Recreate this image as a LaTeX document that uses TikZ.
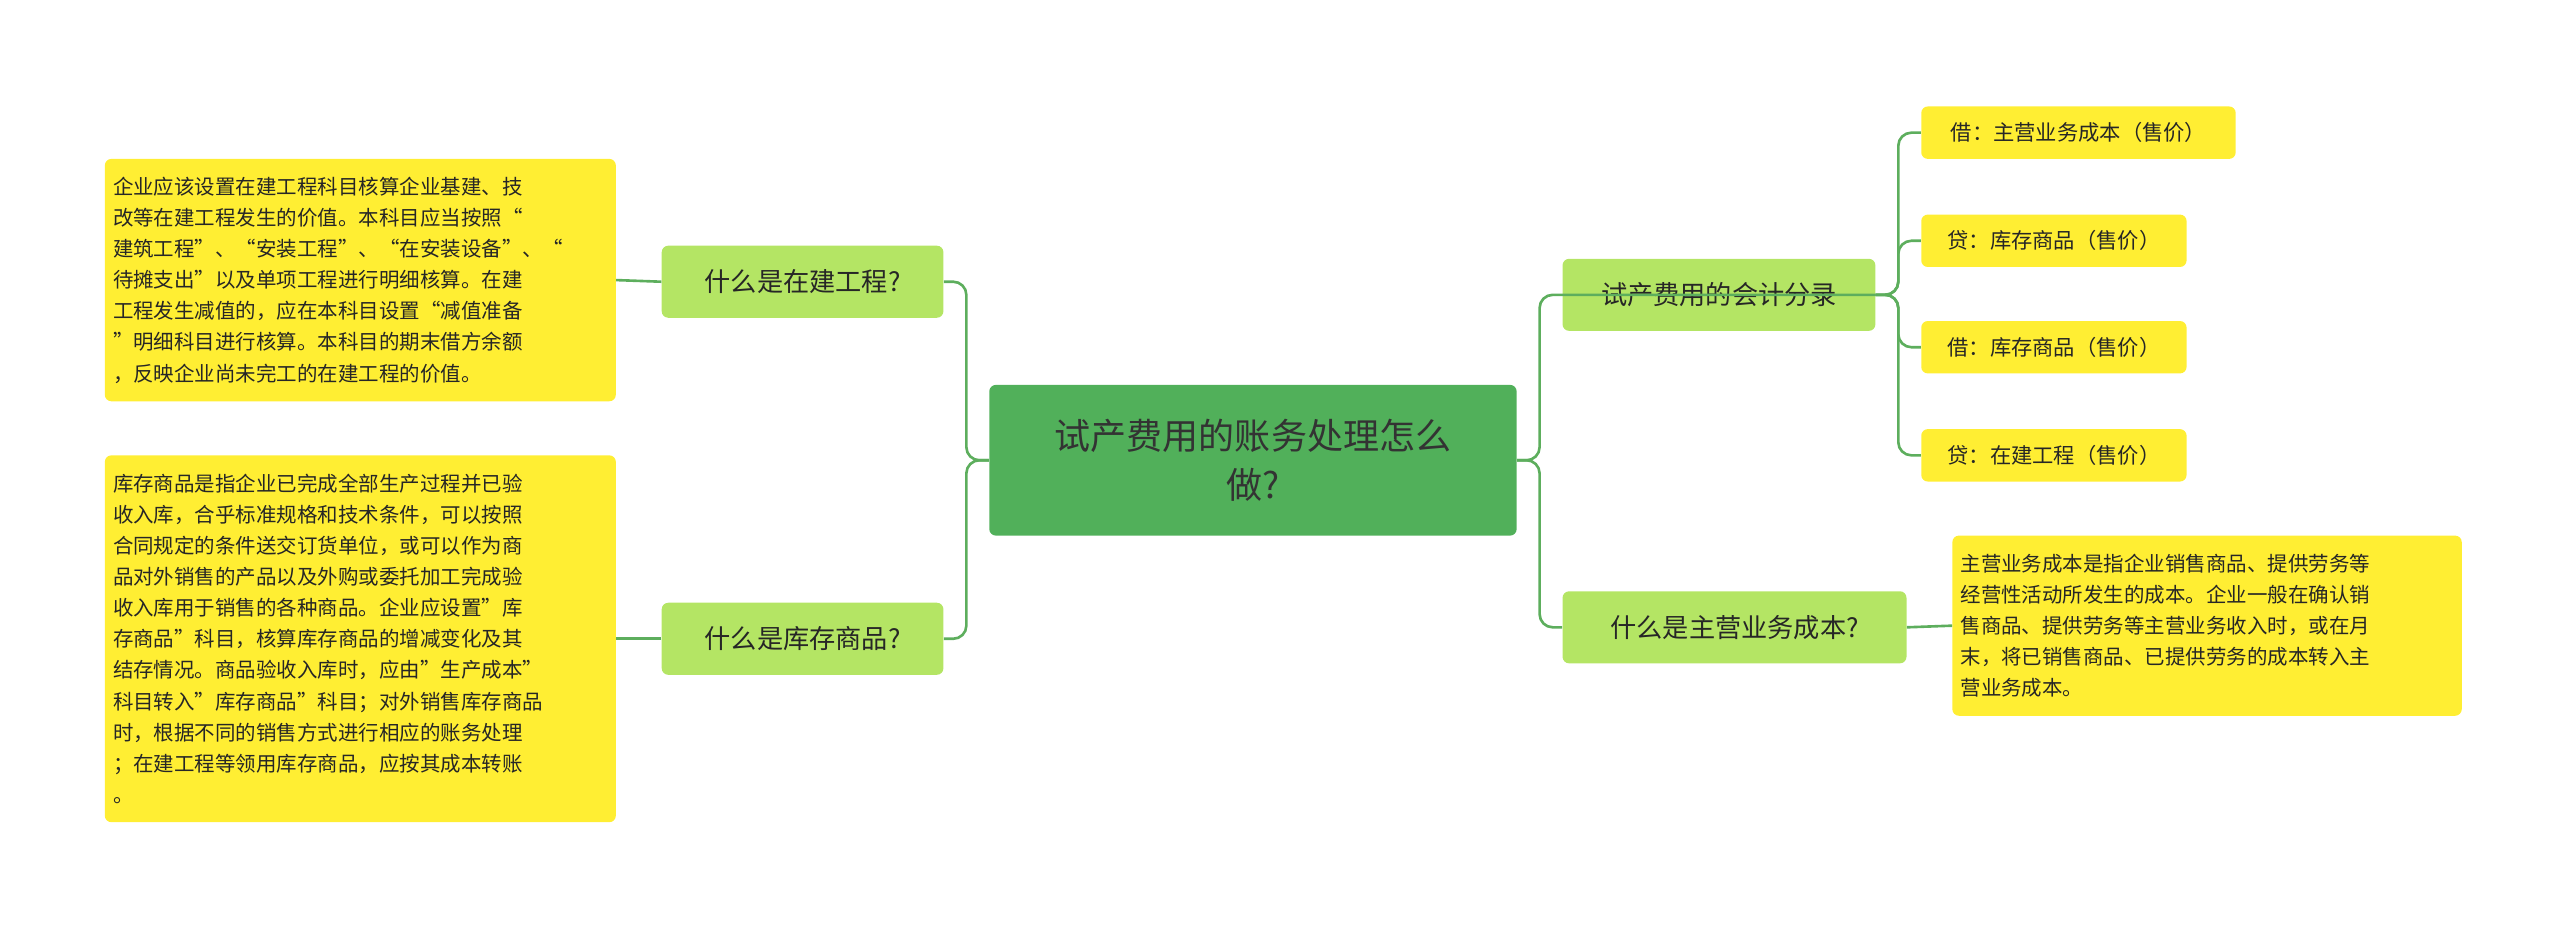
\documentclass[tikz,border=0pt]{standalone}
\usepackage{fontspec}
\setmainfont{Noto Sans CJK SC}
\begin{document}
\begin{tikzpicture}[x=1pt,y=-1pt,
  cen/.style={fill=cgreen,rounded corners=4pt,text=black!80,font=\fontsize{22}{30}\selectfont,align=center,inner sep=0pt},
  br/.style={fill=lgreen,rounded corners=4pt,text=black!85,font=\fontsize{16}{20}\selectfont,inner sep=0pt},
  lf/.style={fill=lyellow,rounded corners=4pt,text=black!85,font=\fontsize{12.5}{19}\selectfont,align=left,inner sep=0pt},
  sl/.style={fill=lyellow,rounded corners=4pt,text=black!85,font=\fontsize{13}{16}\selectfont,inner sep=0pt},
  ln/.style={draw=lgline,line width=1.6pt,rounded corners=8pt}]
\definecolor{cgreen}{HTML}{51B05A}
\definecolor{lgreen}{HTML}{B4E564}
\definecolor{lyellow}{HTML}{FFEE33}
\definecolor{lgline}{HTML}{5DAE5D}
\useasboundingbox (0,0) rectangle (1563,565);
% nodes
\node[cen,minimum width=322,minimum height=92] (c) at (765,281) {试产费用的账务处理怎么\\做?};
\node[br,minimum width=172,minimum height=44] (b1) at (490,172) {什么是在建工程?};
\node[br,minimum width=172,minimum height=44] (b2) at (490,390) {什么是库存商品?};
\node[br,minimum width=191,minimum height=44] (b3) at (1049.5,180) {试产费用的会计分录};
\node[br,minimum width=210,minimum height=44] (b4) at (1059,383) {什么是主营业务成本?};
\node[lf,minimum width=312,minimum height=148,text width=302] (l1) at (220,171) {企业应该设置在建工程科目核算企业基建、技\\改等在建工程发生的价值。本科目应当按照“\\建筑工程”、“安装工程”、“在安装设备”、“\\待摊支出”以及单项工程进行明细核算。在建\\工程发生减值的，应在本科目设置“减值准备\\”明细科目进行核算。本科目的期末借方余额\\，反映企业尚未完工的在建工程的价值。};
\node[lf,minimum width=312,minimum height=224,text width=302] (l2) at (220,390) {库存商品是指企业已完成全部生产过程并已验\\收入库，合乎标准规格和技术条件，可以按照\\合同规定的条件送交订货单位，或可以作为商\\品对外销售的产品以及外购或委托加工完成验\\收入库用于销售的各种商品。企业应设置"库\\存商品"科目，核算库存商品的增减变化及其\\结存情况。商品验收入库时，应由"生产成本"\\科目转入"库存商品"科目；对外销售库存商品\\时，根据不同的销售方式进行相应的账务处理\\；在建工程等领用库存商品，应按其成本转账\\。};
\node[lf,minimum width=311,minimum height=110,text width=301] (l3) at (1347.5,382) {主营业务成本是指企业销售商品、提供劳务等\\经营性活动所发生的成本。企业一般在确认销\\售商品、提供劳务等主营业务收入时，或在月\\末，将已销售商品、已提供劳务的成本转入主\\营业务成本。};
\node[sl,minimum width=192,minimum height=32] (s1) at (1269,81) {借：主营业务成本（售价）};
\node[sl,minimum width=162,minimum height=32] (s2) at (1254,147) {贷：库存商品（售价）};
\node[sl,minimum width=162,minimum height=32] (s3) at (1254,212) {借：库存商品（售价）};
\node[sl,minimum width=162,minimum height=32] (s4) at (1254,278) {贷：在建工程（售价）};
\coordinate (jl) at (590,281);
\coordinate (jr) at (940,281);
\coordinate (ja) at (1159,180);
% connectors
\draw[ln] (c.west) -- (jl) |- (b1.east);
\draw[ln] (c.west) -- (jl) |- (b2.east);
\draw[ln] (c.east) -- (jr) |- (b3.east);
\draw[ln] (c.east) -- (jr) |- (b4.west);
\draw[ln] (b1.west) -- (l1.east);
\draw[ln] (b2.west) -- (l2.east);
\draw[ln] (b4.east) -- (l3.west);
\foreach \s in {s1,s2,s3,s4} \draw[ln] (b3.east) -- (ja) |- (\s.west);
\end{tikzpicture}
\end{document}
